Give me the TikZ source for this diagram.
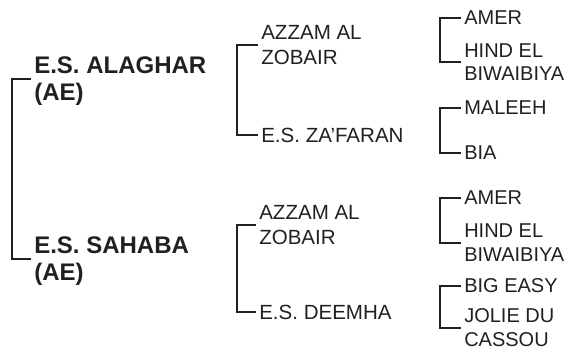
\documentclass[tikz,border=0pt]{standalone}
\usepackage{fontspec}
\setmainfont{Liberation Sans}
\usepackage{tikz}
\usetikzlibrary{positioning,calc}
\definecolor{inkC}{RGB}{35,31,32}
\tikzset{
    pedline/.style = {line width=1.5pt, draw=inkC},
    horse/.style   = {anchor=west, inner sep=0pt, align=left,
            text depth=0pt, text=inkC},
    horseA/.style  = {horse, font=\bfseries\fontsize{18}{20.25}\selectfont},
    horseB/.style  = {horse, font=\fontsize{15.4}{18.75}\selectfont},
    horseC/.style  = {horse, font=\fontsize{15}{17.6}\selectfont},
}
\newcommand{\PedBracket}[3]{% sire, dam, arm length
    \draw[pedline] ([xshift=-2.5pt]#1.west) -- ++(-#3,0) |- ([xshift=-2.5pt]#2.west);
}

\begin{document}
\begin{tikzpicture}[x=0.75pt, y=-0.75pt]
    \useasboundingbox (0,0) rectangle (573,350);

    % parents
    \node[horseA] (alaghar) at (34,78.5) {E.S. ALAGHAR\\(AE)};
    \node[horseA] (sahaba)  at (34,259) {E.S. SAHABA\\(AE)};
    \PedBracket{alaghar}{sahaba}{19}

    % grandparents
    \node[horseB] (azzamA)  at (261,44.5) {AZZAM AL\\ZOBAIR};
    \node[horseB] (zafaran) at (261,135) {E.S. ZA'FARAN};
    \PedBracket{azzamA}{zafaran}{21}
    \node[horseB] (azzamB)  at (259,224.5) {AZZAM AL\\ZOBAIR};
    \node[horseB] (deemha)  at (259,312) {E.S. DEEMHA};
    \PedBracket{azzamB}{deemha}{19}

    % great-grandparents
    \node[horseC] (amerA)   at (464,18) {AMER};
    \node[horseC] (hindA)   at (464,62) {HIND EL\\BIWAIBIYA};
    \PedBracket{amerA}{hindA}{21}
    \node[horseC] (maleeh)  at (464,108) {MALEEH};
    \node[horseC] (bia)     at (464,153) {BIA};
    \PedBracket{maleeh}{bia}{21}
    \node[horseC] (amerB)   at (464,198) {AMER};
    \node[horseC] (hindB)   at (464,242.5) {HIND EL\\BIWAIBIYA};
    \PedBracket{amerB}{hindB}{21}
    \node[horseC] (bigeasy) at (464,286) {BIG EASY};
    \node[horseC] (jolie)   at (464,327.5) {JOLIE DU\\CASSOU};
    \PedBracket{bigeasy}{jolie}{21}
\end{tikzpicture}
\end{document}
